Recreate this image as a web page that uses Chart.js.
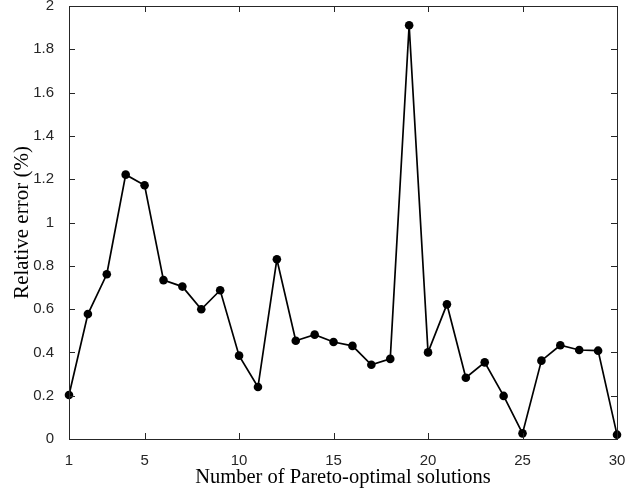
<!DOCTYPE html>
<html>
<head>
<meta charset="utf-8">
<script src="https://cdn.jsdelivr.net/npm/chart.js@4.4.1/dist/chart.umd.min.js"></script>
<style>
  html, body { margin: 0; padding: 0; background: #fff; }
  #wrap { width: 630px; height: 497px; }
</style>
</head>
<body>
<div id="wrap"><canvas id="chart" width="630" height="497"></canvas></div>
<script>
const solutions = [1, 2, 3, 4, 5, 6, 7, 8, 9, 10, 11, 12, 13, 14, 15,
  16, 17, 18, 19, 20, 21, 22, 23, 24, 25, 26, 27, 28, 29, 30];
const relError = [0.203, 0.577, 0.761, 1.221, 1.172, 0.734, 0.704, 0.599, 0.687, 0.385,
  0.240, 0.830, 0.454, 0.482, 0.448, 0.430, 0.343, 0.370, 1.911, 0.400,
  0.622, 0.283, 0.354, 0.199, 0.026, 0.362, 0.433, 0.411, 0.408, 0.020];
const xTicks = [1, 5, 10, 15, 20, 25, 30];
const yTicks = [0, 0.2, 0.4, 0.6, 0.8, 1, 1.2, 1.4, 1.6, 1.8, 2];

const axisColor = "#262626";

// matlab style box with inward ticks on all four sides
const boxPlugin = {
  id: "box",
  afterDatasetsDraw(chart) {
    const { ctx, chartArea: a, scales } = chart;
    const len = 6;
    ctx.save();
    ctx.strokeStyle = axisColor;
    ctx.lineWidth = 1;
    ctx.beginPath();
    for (const t of scales.x.ticks) {
      const px = Math.round(scales.x.getPixelForValue(t.value)) + 0.5;
      ctx.moveTo(px, a.bottom); ctx.lineTo(px, a.bottom - len);
      ctx.moveTo(px, a.top); ctx.lineTo(px, a.top + len);
    }
    for (const t of scales.y.ticks) {
      const py = Math.round(scales.y.getPixelForValue(t.value)) + 0.5;
      ctx.moveTo(a.left, py); ctx.lineTo(a.left + len, py);
      ctx.moveTo(a.right, py); ctx.lineTo(a.right - len, py);
    }
    ctx.stroke();
    ctx.strokeRect(Math.round(a.left) + 0.5, Math.round(a.top) + 0.5,
      Math.round(a.right - a.left), Math.round(a.bottom - a.top));
    ctx.restore();
  }
};

new Chart(document.getElementById("chart"), {
  type: "line",
  plugins: [boxPlugin],
  data: {
    datasets: [{
      data: solutions.map((s, i) => ({ x: s, y: relError[i] })),
      borderColor: "#000",
      backgroundColor: "#000",
      borderWidth: 1.7,
      pointRadius: 4.3,
      pointBackgroundColor: "#000",
      pointBorderWidth: 0,
      tension: 0,
      clip: false
    }]
  },
  options: {
    responsive: false,
    animation: false,
    layout: { padding: { left: 0, right: 13, top: 6, bottom: 0 } },
    plugins: { legend: { display: false }, tooltip: { enabled: false } },
    scales: {
      x: {
        type: "linear",
        min: 1,
        max: 30,
        afterBuildTicks: (s) => { s.ticks = xTicks.map(v => ({ value: v })); },
        afterFit: (s) => { s.height = 58; s.paddingLeft = 0; s.paddingRight = 0; },
        grid: { display: false },
        border: { display: false },
        ticks: {
          color: axisColor,
          padding: 5,
          maxRotation: 0,
          callback: (v) => String(v),
          font: { family: "'Liberation Sans', Arial, sans-serif", size: 15 }
        },
        title: {
          display: true,
          text: "Number of Pareto-optimal solutions",
          color: "#000",
          padding: { top: 0, bottom: 7 },
          font: { family: "'Liberation Serif', 'Times New Roman', serif", size: 20.5 }
        }
      },
      y: {
        min: 0,
        max: 2,
        afterBuildTicks: (s) => { s.ticks = yTicks.map(v => ({ value: v })); },
        afterFit: (s) => { s.width = 69; s.paddingTop = 0; s.paddingBottom = 0; },
        grid: { display: false },
        border: { display: false },
        ticks: {
          color: axisColor,
          padding: 7,
          callback: (v) => String(v),
          font: { family: "'Liberation Sans', Arial, sans-serif", size: 15 }
        },
        title: {
          display: true,
          text: "Relative error (%)",
          color: "#000",
          padding: { top: 10, bottom: 0 },
          font: { family: "'Liberation Serif', 'Times New Roman', serif", size: 21 }
        }
      }
    }
  }
});
</script>
</body>
</html>
